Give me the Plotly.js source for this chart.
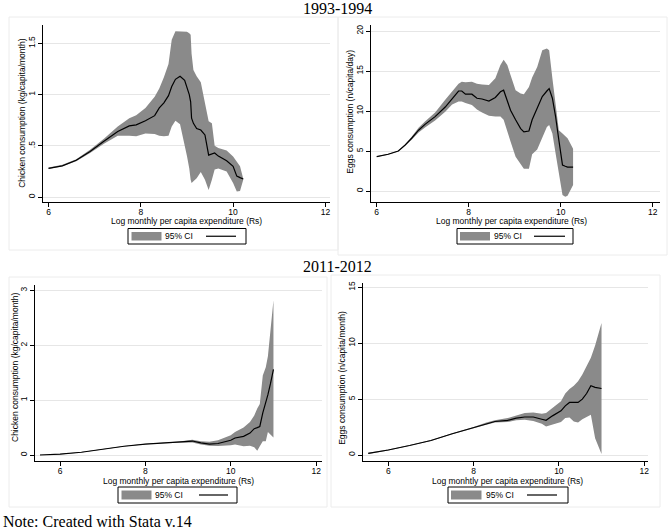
<!DOCTYPE html>
<html><head><meta charset="utf-8">
<script src="https://cdn.plot.ly/plotly-3.0.1.min.js"></script>
<style>html,body{margin:0;padding:0;background:#fff;}#chart{width:669px;height:532px;}</style>
</head><body><div id="chart"></div>
<script>
// ---- Panel 1: Chicken 1993-1994 ----
const p1X    = [6.0,6.3,6.6,6.9,7.2,7.5,7.75,7.9,8.1,8.3,8.4,8.5,8.6,8.67,8.75,8.85,8.95,9.0,9.05,9.08,9.1,9.14,9.21,9.3,9.39,9.47,9.54,9.6,9.68,9.86,10.0,10.08,10.15,10.22];
const p1Mean = [0.28,0.305,0.36,0.445,0.545,0.64,0.695,0.705,0.745,0.795,0.87,0.92,0.99,1.08,1.15,1.18,1.14,1.08,1.0,0.93,0.77,0.72,0.67,0.655,0.607,0.41,0.42,0.43,0.40,0.355,0.30,0.205,0.19,0.176];
const p1Lo   = [0.275,0.30,0.35,0.43,0.52,0.60,0.60,0.595,0.62,0.615,0.60,0.595,0.60,0.69,0.745,0.71,0.50,0.40,0.28,0.17,0.137,0.15,0.185,0.245,0.17,0.07,0.17,0.27,0.28,0.25,0.137,0.055,0.06,0.17];
const p1Hi   = [0.29,0.315,0.37,0.462,0.57,0.69,0.77,0.80,0.87,0.98,1.06,1.17,1.30,1.535,1.62,1.62,1.62,1.615,1.60,1.585,1.40,1.24,1.18,1.12,0.918,0.74,0.72,0.50,0.48,0.455,0.397,0.345,0.30,0.18];
// ---- Panel 2: Eggs 1993-1994 ----
const p2X    = [6.0,6.25,6.47,6.62,6.76,6.91,7.05,7.27,7.49,7.64,7.78,7.85,7.93,8.07,8.18,8.29,8.44,8.58,8.69,8.76,8.84,8.91,9.02,9.13,9.2,9.31,9.38,9.49,9.6,9.7,9.75,9.82,9.89,9.96,10.04,10.1,10.15,10.27];
const p2Mean = [4.29,4.6,5.0,5.75,6.6,7.6,8.33,9.3,10.5,11.6,12.5,12.5,12.1,12.1,11.6,11.5,11.25,11.7,12.4,12.6,11.4,10.1,8.9,7.8,7.4,7.5,8.9,10.3,11.8,12.5,12.8,11.6,9.3,6.4,3.25,3.1,3.0,3.0];
const p2Lo   = [4.25,4.55,4.95,5.65,6.4,7.3,7.95,8.8,9.9,10.8,11.2,11.2,11.0,10.75,10.2,9.8,9.4,9.3,9.3,8.9,7.6,6.2,4.3,3.4,2.8,2.8,4.6,5.2,6.6,8.0,8.25,7.2,4.7,2.6,-0.5,-0.7,-0.6,0.75];
const p2Hi   = [4.35,4.65,5.05,5.85,6.8,7.9,8.7,9.8,11.4,12.5,13.4,13.67,13.6,13.67,13.4,13.3,13.25,14.1,15.75,16.4,15.75,14.5,12.6,12.2,12.1,13.0,14.2,15.5,17.6,17.8,17.6,14.1,11.0,7.6,7.2,6.9,6.6,5.3];
// ---- Panel 3: Chicken 2011-2012 ----
const p3X    = [5.53,6.0,6.5,7.0,7.5,8.0,8.5,8.8,9.0,9.1,9.3,9.5,9.7,9.85,10.0,10.1,10.2,10.3,10.45,10.55,10.62,10.68,10.75,10.82,10.87,10.93,11.0];
const p3Mean = [0.0,0.015,0.05,0.11,0.16,0.2,0.22,0.235,0.25,0.255,0.22,0.2,0.21,0.24,0.27,0.31,0.33,0.34,0.4,0.48,0.5,0.52,0.77,0.95,1.1,1.3,1.56];
const p3Lo   = [0.0,0.01,0.045,0.105,0.155,0.195,0.215,0.225,0.23,0.23,0.19,0.17,0.165,0.17,0.18,0.19,0.17,0.16,0.17,0.14,0.08,0.16,0.25,0.25,0.42,0.38,0.32];
const p3Hi   = [0.005,0.02,0.055,0.115,0.165,0.205,0.225,0.245,0.27,0.28,0.25,0.24,0.27,0.31,0.36,0.42,0.46,0.5,0.6,0.72,0.85,0.93,1.45,1.6,1.8,2.3,2.82];
// ---- Panel 4: Eggs 2011-2012 ----
const p4X    = [5.53,6.0,6.5,7.0,7.5,8.0,8.3,8.5,8.8,9.0,9.2,9.4,9.6,9.7,9.85,10.05,10.15,10.25,10.35,10.45,10.55,10.65,10.75,10.85,11.0];
const p4Mean = [0.15,0.45,0.85,1.3,1.9,2.45,2.8,3.0,3.1,3.3,3.4,3.4,3.2,3.1,3.5,3.95,4.4,4.7,4.7,4.7,5.0,5.5,6.2,6.05,5.95];
const p4Lo   = [0.1,0.4,0.8,1.25,1.85,2.4,2.7,2.9,2.95,3.1,3.15,3.05,2.8,2.55,2.75,2.95,3.3,3.35,3.0,2.9,3.2,3.4,3.6,1.5,0.1];
const p4Hi   = [0.2,0.5,0.9,1.35,1.95,2.5,2.9,3.1,3.3,3.55,3.75,3.8,3.7,3.75,4.2,4.8,5.5,5.9,6.2,6.6,7.2,7.9,8.7,9.8,11.8];

const xTickVals = [6,8,10,12];
const xTickText = ['6','8','10','12'];
const y1TickVals = [0,0.5,1,1.5];   const y1TickText = ['0','.5','1','1.5'];
const y2TickVals = [0,5,10,15,20];  const y2TickText = ['0','5','10','15','20'];
const y3TickVals = [0,1,2,3];       const y3TickText = ['0','1','2','3'];
const y4TickVals = [0,5,10,15];     const y4TickText = ['0','5','10','15'];

const periodTitles = ['1993-1994','2011-2012'];
const xTitles = ['Log monthly per capita expenditure (Rs)','Log monthly per capita expenditure (Rs)','Log monthly per capita expenditure (Rs)','Log monhtly per capita expenditure (Rs)'];
const yTitles = ['Chicken consumption (kg/capita/month)','Eggs consumption (n/capita/day)','Chicken consumption (kg/capita/month)','Eggs consumption (n/capita/month)'];
const ciLabel = '95% CI';
const noteText = 'Note: Created with Stata v.14';

const W = 669, H = 532;
const SANS = 'Liberation Sans, Arial, sans-serif';
const SERIF = 'Liberation Serif, Times New Roman, serif';
const BAND = '#8a8a8a';
const px = v => v / W;
const py = v => 1 - v / H;

function band(x, lo, hi, xa, ya) {
  return {x: x.concat(x.slice().reverse()), y: hi.concat(lo.slice().reverse()),
    type:'scatter', mode:'lines', fill:'toself', fillcolor: BAND, line:{width:0, color: BAND},
    xaxis: xa, yaxis: ya, hoverinfo:'skip', showlegend:false};
}
function meanLine(x, y, xa, ya) {
  return {x: x, y: y, type:'scatter', mode:'lines', line:{color:'#000', width:1.2},
    xaxis: xa, yaxis: ya, hoverinfo:'skip', showlegend:false};
}

const data = [
  band(p1X, p1Lo, p1Hi, 'x', 'y'),   meanLine(p1X, p1Mean, 'x', 'y'),
  band(p2X, p2Lo, p2Hi, 'x2', 'y2'), meanLine(p2X, p2Mean, 'x2', 'y2'),
  band(p3X, p3Lo, p3Hi, 'x3', 'y3'), meanLine(p3X, p3Mean, 'x3', 'y3'),
  band(p4X, p4Lo, p4Hi, 'x4', 'y4'), meanLine(p4X, p4Mean, 'x4', 'y4')
];

function xAxis(x0, x1, yAnchor, rng) {
  return {domain:[px(x0), px(x1)], range: rng, anchor: yAnchor, showline:true, linecolor:'#000', linewidth:1,
    ticks:'outside', ticklen:4, tickcolor:'#000', tickwidth:1, tickvals: xTickVals, ticktext: xTickText,
    ticklabelstandoff:-2,
    showgrid:false, zeroline:false, tickfont:{family:SANS, size:8.5, color:'#000'}, fixedrange:true};
}
function yAxis(y0, y1, xAnchor, rng, tv, tt) {
  return {domain:[py(y1), py(y0)], range: rng, anchor: xAnchor, showline:true, linecolor:'#000', linewidth:1,
    ticks:'outside', ticklen:4, tickcolor:'#000', tickwidth:1, tickvals: tv, ticktext: tt, tickangle:-90,
    ticklabelstandoff:0,
    showgrid:true, gridcolor:'#e6e6e6', gridwidth:1, zeroline:false,
    tickfont:{family:SANS, size:8.5, color:'#000'}, fixedrange:true};
}

const shapes = [];
const annotations = [];
// faint panel frames
[[9,17,338,250],[338,17,667,255],[9,277,327,507],[331,275,660,507]].forEach(r => {
  shapes.push({type:'rect', xref:'paper', yref:'paper', x0:px(r[0]), x1:px(r[2]), y0:py(r[3]), y1:py(r[1]),
    line:{color:'#ececec', width:1}, fillcolor:'rgba(0,0,0,0)', layer:'below'});
});
// axis titles as annotations: [xTitleCx, xTitleCy, yTitleCx, yTitleCy]
const titlePos = [
  [186.5, 221, 22.5, 113.3],
  [511.7, 221.5, 350, 111.7],
  [178.3, 480.5, 14.5, 367.5],
  [507, 480.5, 342.5, 378.3]
];
titlePos.forEach((t, i) => {
  annotations.push({xref:'paper', yref:'paper', x:px(t[0]), y:py(t[1]), xanchor:'center', yanchor:'middle',
    text: xTitles[i], showarrow:false, borderpad:0, font:{family:SANS, size:8.5, color:'#000'}});
  annotations.push({xref:'paper', yref:'paper', x:px(t[2]), y:py(t[3]), xanchor:'center', yanchor:'middle',
    text: yTitles[i], textangle:-90, showarrow:false, borderpad:0, font:{family:SANS, size:8.5, color:'#000'}});
});
// legends: [boxL, boxT, boxR, boxB, swatchL, swatchR, textX, lineL, lineR]
const legends = [
  [128,228.5,246,244,131.5,161.5,164,206,236],
  [457,228.5,573,244,460,490,492.5,534,565],
  [118,487,237,503,121.5,151.5,154,199,228],
  [448,487,568,503,451,481.5,484.5,527,557]
];
legends.forEach(L => {
  const yc = (L[1] + L[3]) / 2;
  shapes.push({type:'rect', xref:'paper', yref:'paper', x0:px(L[0]), x1:px(L[2]), y0:py(L[3]), y1:py(L[1]),
    line:{color:'#000', width:1}, fillcolor:'#fff'});
  shapes.push({type:'rect', xref:'paper', yref:'paper', x0:px(L[4]), x1:px(L[5]), y0:py(L[3]-3.5), y1:py(L[1]+3.5),
    line:{width:0}, fillcolor: BAND});
  shapes.push({type:'line', xref:'paper', yref:'paper', x0:px(L[7]), x1:px(L[8]), y0:py(yc), y1:py(yc),
    line:{color:'#000', width:1.2}});
  annotations.push({xref:'paper', yref:'paper', x:px(L[6]), y:py(yc), xanchor:'left', yanchor:'middle',
    text: ciLabel, showarrow:false, borderpad:0, font:{family:SANS, size:8.5, color:'#000'}});
});
annotations.push({xref:'paper', yref:'paper', x:px(337), y:py(9), xanchor:'center', yanchor:'middle',
  text: periodTitles[0], showarrow:false, font:{family:SERIF, size:16, color:'#000'}});
annotations.push({xref:'paper', yref:'paper', x:px(337), y:py(266), xanchor:'center', yanchor:'middle',
  text: periodTitles[1], showarrow:false, font:{family:SERIF, size:16, color:'#000'}});
annotations.push({xref:'paper', yref:'paper', x:px(1), y:py(521), xanchor:'left', yanchor:'middle',
  text: noteText, showarrow:false, font:{family:SERIF, size:16, color:'#000'}});

const layout = {
  width: W, height: H, margin:{l:0, r:0, t:0, b:0}, paper_bgcolor:'#fff', plot_bgcolor:'#fff',
  showlegend:false,
  xaxis:  xAxis(43, 330, 'y',  [5.88, 12.1]),
  yaxis:  yAxis(25, 202, 'x', [-0.048, 1.68], y1TickVals, y1TickText),
  xaxis2: xAxis(371, 660, 'y2', [5.876, 12.16]),
  yaxis2: yAxis(25, 202, 'x2', [-1.37, 20.75], y2TickVals, y2TickText),
  xaxis3: xAxis(35, 321.7, 'y3', [5.414, 12.13]),
  yaxis3: yAxis(285, 460.5, 'x3', [-0.1, 3.1], y3TickVals, y3TickText),
  xaxis4: xAxis(363.3, 648, 'y4', [5.414, 12.09]),
  yaxis4: yAxis(283, 460.5, 'x4', [-0.49, 15.38], y4TickVals, y4TickText),
  shapes: shapes, annotations: annotations
};
Plotly.newPlot('chart', data, layout, {displayModeBar:false, staticPlot:true});
</script></body></html>
